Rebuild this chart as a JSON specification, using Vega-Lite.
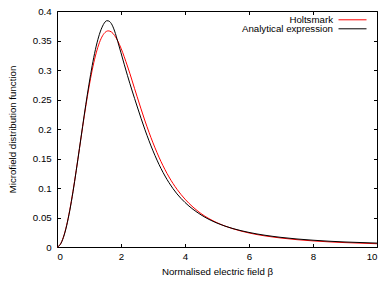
{
  "$schema": "https://vega.github.io/schema/vega-lite/v6.json",
  "width": 320,
  "height": 236,
  "autosize": "none",
  "padding": {"left": 57, "top": 11, "right": 14, "bottom": 35},
  "data": {"values": [
    {"beta": 0, "f": 0, "series": "Holtsmark"},
    {"beta": 0.1, "f": 0.00422, "series": "Holtsmark"},
    {"beta": 0.2, "f": 0.01667, "series": "Holtsmark"},
    {"beta": 0.3, "f": 0.03664, "series": "Holtsmark"},
    {"beta": 0.4, "f": 0.06308, "series": "Holtsmark"},
    {"beta": 0.5, "f": 0.0946, "series": "Holtsmark"},
    {"beta": 0.6, "f": 0.12959, "series": "Holtsmark"},
    {"beta": 0.7, "f": 0.16636, "series": "Holtsmark"},
    {"beta": 0.8, "f": 0.20324, "series": "Holtsmark"},
    {"beta": 0.9, "f": 0.23864, "series": "Holtsmark"},
    {"beta": 1.0, "f": 0.27122, "series": "Holtsmark"},
    {"beta": 1.1, "f": 0.29987, "series": "Holtsmark"},
    {"beta": 1.2, "f": 0.32378, "series": "Holtsmark"},
    {"beta": 1.3, "f": 0.34246, "series": "Holtsmark"},
    {"beta": 1.4, "f": 0.3557, "series": "Holtsmark"},
    {"beta": 1.5, "f": 0.36357, "series": "Holtsmark"},
    {"beta": 1.6, "f": 0.36633, "series": "Holtsmark"},
    {"beta": 1.7, "f": 0.36446, "series": "Holtsmark"},
    {"beta": 1.8, "f": 0.3585, "series": "Holtsmark"},
    {"beta": 1.9, "f": 0.34911, "series": "Holtsmark"},
    {"beta": 2.0, "f": 0.33694, "series": "Holtsmark"},
    {"beta": 2.2, "f": 0.30683, "series": "Holtsmark"},
    {"beta": 2.5, "f": 0.25539, "series": "Holtsmark"},
    {"beta": 2.75, "f": 0.2136, "series": "Holtsmark"},
    {"beta": 3.0, "f": 0.1765, "series": "Holtsmark"},
    {"beta": 3.25, "f": 0.1448, "series": "Holtsmark"},
    {"beta": 3.5, "f": 0.1187, "series": "Holtsmark"},
    {"beta": 3.75, "f": 0.0978, "series": "Holtsmark"},
    {"beta": 4.0, "f": 0.0811, "series": "Holtsmark"},
    {"beta": 4.5, "f": 0.0567, "series": "Holtsmark"},
    {"beta": 5.0, "f": 0.0412, "series": "Holtsmark"},
    {"beta": 5.5, "f": 0.0309, "series": "Holtsmark"},
    {"beta": 6.0, "f": 0.0238, "series": "Holtsmark"},
    {"beta": 7.0, "f": 0.0152, "series": "Holtsmark"},
    {"beta": 8.0, "f": 0.01035, "series": "Holtsmark"},
    {"beta": 9.0, "f": 0.00744, "series": "Holtsmark"},
    {"beta": 10.0, "f": 0.00556, "series": "Holtsmark"},
    {"beta": 0, "f": 0, "series": "Analytical expression"},
    {"beta": 0.1, "f": 0.0041, "series": "Analytical expression"},
    {"beta": 0.2, "f": 0.0162, "series": "Analytical expression"},
    {"beta": 0.3, "f": 0.0358, "series": "Analytical expression"},
    {"beta": 0.4, "f": 0.062, "series": "Analytical expression"},
    {"beta": 0.5, "f": 0.0935, "series": "Analytical expression"},
    {"beta": 0.6, "f": 0.129, "series": "Analytical expression"},
    {"beta": 0.7, "f": 0.1665, "series": "Analytical expression"},
    {"beta": 0.8, "f": 0.2045, "series": "Analytical expression"},
    {"beta": 0.9, "f": 0.2415, "series": "Analytical expression"},
    {"beta": 1.0, "f": 0.276, "series": "Analytical expression"},
    {"beta": 1.1, "f": 0.3075, "series": "Analytical expression"},
    {"beta": 1.2, "f": 0.3345, "series": "Analytical expression"},
    {"beta": 1.3, "f": 0.356, "series": "Analytical expression"},
    {"beta": 1.4, "f": 0.3715, "series": "Analytical expression"},
    {"beta": 1.5, "f": 0.3812, "series": "Analytical expression"},
    {"beta": 1.55, "f": 0.3835, "series": "Analytical expression"},
    {"beta": 1.6, "f": 0.3833, "series": "Analytical expression"},
    {"beta": 1.7, "f": 0.3785, "series": "Analytical expression"},
    {"beta": 1.8, "f": 0.366, "series": "Analytical expression"},
    {"beta": 1.9, "f": 0.348, "series": "Analytical expression"},
    {"beta": 2.0, "f": 0.329, "series": "Analytical expression"},
    {"beta": 2.2, "f": 0.291, "series": "Analytical expression"},
    {"beta": 2.5, "f": 0.239, "series": "Analytical expression"},
    {"beta": 2.75, "f": 0.1985, "series": "Analytical expression"},
    {"beta": 3.0, "f": 0.163, "series": "Analytical expression"},
    {"beta": 3.25, "f": 0.133, "series": "Analytical expression"},
    {"beta": 3.5, "f": 0.109, "series": "Analytical expression"},
    {"beta": 3.75, "f": 0.09, "series": "Analytical expression"},
    {"beta": 4.0, "f": 0.0755, "series": "Analytical expression"},
    {"beta": 4.5, "f": 0.0545, "series": "Analytical expression"},
    {"beta": 5.0, "f": 0.0405, "series": "Analytical expression"},
    {"beta": 5.5, "f": 0.0312, "series": "Analytical expression"},
    {"beta": 6.0, "f": 0.0247, "series": "Analytical expression"},
    {"beta": 7.0, "f": 0.0163, "series": "Analytical expression"},
    {"beta": 8.0, "f": 0.0115, "series": "Analytical expression"},
    {"beta": 9.0, "f": 0.0085, "series": "Analytical expression"},
    {"beta": 10.0, "f": 0.0066, "series": "Analytical expression"}
  ]},
  "layer": [
    {
      "transform": [{"filter": "datum.series === 'Holtsmark'"}],
      "mark": {"type": "line", "interpolate": "monotone", "strokeWidth": 1},
      "encoding": {
        "x": {"field": "beta", "type": "quantitative",
              "scale": {"domain": [0, 10], "nice": false, "zero": false},
              "axis": {"orient": "bottom", "values": [0, 2, 4, 6, 8, 10], "format": "d",
                       "title": "Normalised electric field β", "labelPadding": 8, "titlePadding": 5}},
        "y": {"field": "f", "type": "quantitative",
              "scale": {"domain": [0, 0.4], "nice": false},
              "axis": {"orient": "left", "values": [0, 0.05, 0.1, 0.15, 0.2, 0.25, 0.3, 0.35, 0.4], "format": "~g",
                       "title": "Microfield distribution function", "labelPadding": 9.3, "titlePadding": 15}},
        "color": {"field": "series", "type": "nominal",
                  "scale": {"domain": ["Holtsmark"], "range": ["#ff0000"]},
                  "legend": {"orient": "none", "legendX": 281, "legendY": -5.7}}
      }
    },
    {
      "transform": [{"filter": "datum.series === 'Analytical expression'"}],
      "mark": {"type": "line", "interpolate": "monotone", "strokeWidth": 1},
      "encoding": {
        "x": {"field": "beta", "type": "quantitative",
              "axis": {"orient": "top", "values": [0, 2, 4, 6, 8, 10], "labels": false, "title": null}},
        "y": {"field": "f", "type": "quantitative",
              "axis": {"orient": "right", "values": [0, 0.05, 0.1, 0.15, 0.2, 0.25, 0.3, 0.35, 0.4], "labels": false, "title": null}},
        "color": {"field": "series", "type": "nominal",
                  "scale": {"domain": ["Analytical expression"], "range": ["#000000"]},
                  "legend": {"orient": "none", "legendX": 281, "legendY": 3.3}}
      }
    }
  ],
  "resolve": {
    "scale": {"color": "independent"},
    "legend": {"color": "independent"},
    "axis": {"x": "independent", "y": "independent"}
  },
  "config": {
    "font": "Liberation Sans",
    "view": {"stroke": "#000000", "strokeWidth": 1},
    "axis": {
      "domain": false, "grid": false,
      "tickSize": -3.5, "tickColor": "#000000", "tickWidth": 1,
      "labelFont": "Liberation Sans", "labelFontSize": 9.7, "labelColor": "#000000",
      "titleFont": "Liberation Sans", "titleFontSize": 9.7, "titleFontWeight": "normal", "titleColor": "#000000"
    },
    "legend": {
      "title": null, "padding": 0, "rowPadding": 0,
      "symbolType": "stroke", "symbolSize": 784, "symbolStrokeWidth": 1,
      "labelAlign": "right", "labelOffset": -34, "labelBaseline": "middle",
      "labelFont": "Liberation Sans", "labelFontSize": 9.7, "labelColor": "#000000", "labelLimit": 0
    }
  }
}
